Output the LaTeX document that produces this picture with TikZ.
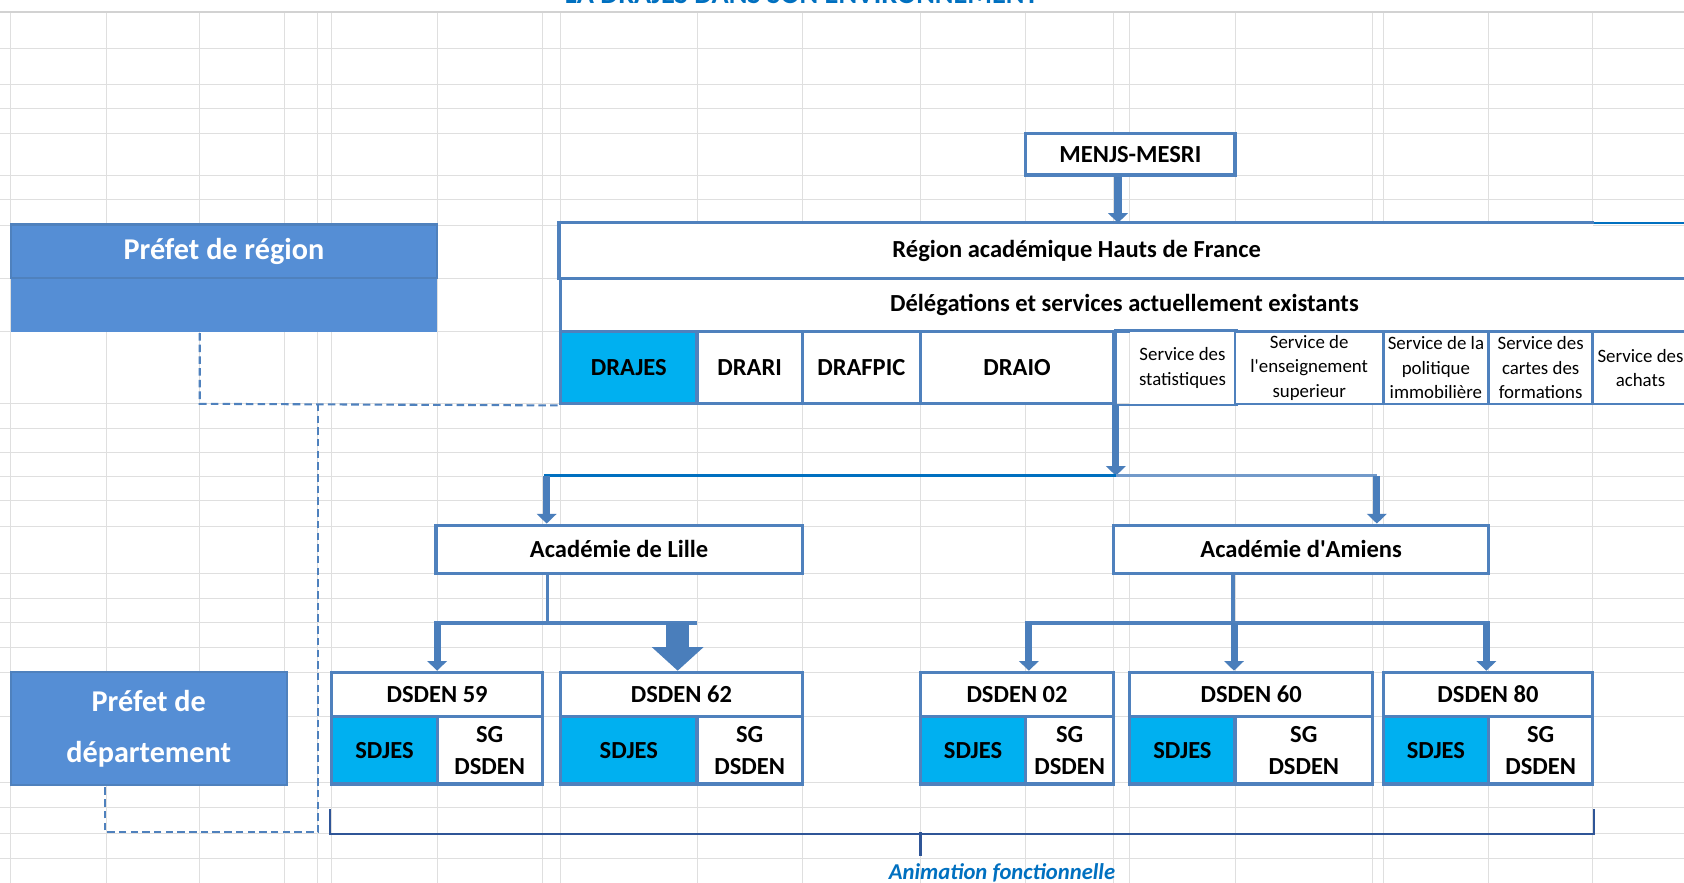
\documentclass[tikz,border=0pt]{standalone}
\usepackage{fontspec}
\setmainfont{Carlito}
\usetikzlibrary{arrows.meta,positioning}
\definecolor{bordbleu}{HTML}{4F81BD}
\definecolor{prefbleu}{HTML}{558ED5}
\definecolor{cyanjes}{HTML}{00B0F0}
\definecolor{titrebleu}{HTML}{0070C0}
\definecolor{flechebleu}{HTML}{4A7EBB}
\definecolor{crochetbleu}{HTML}{2F5597}
\tikzset{
  boite/.style 2 args={draw=bordbleu,line width=1.7pt,fill=white,inner sep=0pt,
    minimum width=#1*0.02cm,minimum height=#2*0.02cm,
    font=\fontsize{13}{17}\selectfont\bfseries,align=center},
  service/.style={font=\fontsize{10}{13}\selectfont,line width=1.4pt},
  jes/.style={fill=cyanjes},
  prefet/.style 2 args={fill=prefbleu,draw=bordbleu,line width=1.2pt,inner sep=0pt,
    minimum width=#1*0.02cm,minimum height=#2*0.02cm,text=white,
    font=\fontsize{16}{29.5}\selectfont\bfseries,align=center},
  fleche/.style={draw=flechebleu,line width=0.13cm,-{Triangle[length=0.18cm,width=0.36cm]}},
  grossefleche/.style={draw=flechebleu,line width=0.42cm,-{Triangle[length=0.44cm,width=0.94cm]}},
  trait/.style={draw=bordbleu,line width=1.7pt},
  tirets/.style={draw=bordbleu,line width=1.1pt,dash pattern=on 4pt off 2.2pt},
  crochet/.style={draw=crochetbleu,line width=1.2pt},
  grille/.style={draw=gray!25,line width=0.5pt},
}

\begin{document}
\begin{tikzpicture}[x=0.02cm,y=-0.02cm]
\useasboundingbox (0,0) rectangle (1568,822);
\fill[white] (0,0) rectangle (1568,822);
% grille du tableur
\foreach \gx in {10,99,186,265,296,309,407,505,522,649,747,857,955,1037,1052,1150,1278,1288,1386,1483}
  \draw[grille] (\gx,11) -- (\gx,830);
\foreach \gy in {45,79,101,124,163,186,210,259,309,376,399,421,444,466,490,534,557,580,603,626,667,729,752,776,799}
  \draw[grille] (0,\gy) -- (1570,\gy);
\draw[grille,draw=gray!35,line width=1.2pt] (0,11) -- (1570,11);
\node (titre) [anchor=base,text=titrebleu,font=\fontsize{15}{17}\selectfont\bfseries] at (746.5,3) {LA DRAJES DANS SON ENVIRONNEMENT};
%
\node (prefregbas) [prefet={397}{50},draw=none] at (208.5,284) {};
\node (prefreg) [prefet={397}{50}] at (208.5,234) {Préfet de région};
\node (prefdep) [prefet={257}{105}] at (138.5,678.5) {Préfet de\\[-0.1cm]département};
%
\node (menjs) [boite={195}{39}] at (1052.5,143.5) {MENJS-MESRI};
\node (region) [boite={961}{50},draw=none] at (1002.5,234) {Région académique Hauts de France};
\draw[draw=bordbleu,line width=1.7pt] (region.south west) -- (region.north west) -- (region.north east);
\draw[draw=titrebleu,line width=1.1pt] (region.north east) -- ++(100,0);
\node (deleg) [boite={1050}{50}] at (1047,284) {Délégations et services actuellement existants};
\node (drajes) [boite={127}{67},jes] at (585.5,342.5) {DRAJES};
\node (drari) [boite={98}{67}] at (698,342.5) {DRARI};
\node (drafpic) [boite={110}{67}] at (802,342.5) {DRAFPIC};
\node (draio) [boite={180}{67}] at (947,342.5) {DRAIO};
\node (stats) [boite={98}{67},service,draw=none] at (1101,342.5) {Service des\\statistiques};
\draw[draw=bordbleu,line width=1.4pt] (draio.north east) rectangle (stats.south east);
\node (ensup) [boite={138}{67},service] at (1219,342.5) {Service de\\l\textquotesingle enseignement\\superieur};
\node (immo) [boite={98}{67},service] at (1337,342.5) {Service de la\\politique\\immobilière};
\node (cartes) [boite={97}{67},service] at (1434.5,342.5) {Service des\\cartes des\\formations};
\node (achats) [boite={89}{67},service] at (1527.5,342.5) {Service des\\achats};
%
\node (lille) [boite={341}{45}] at (576.5,511.5) {Académie de Lille};
\node (amiens) [boite={349}{45}] at (1211.5,511.5) {Académie d\textquotesingle Amiens};
%
\node (d59) [boite={196}{41}] at (407,646.5) {DSDEN 59};
\node (d59j) [boite={98}{63},jes] at (358,698.5) {SDJES};
\node (d59s) [boite={98}{63}] at (456,698.5) {SG\\DSDEN};
\node (d62) [boite={225}{41}] at (634.5,646.5) {DSDEN 62};
\node (d62j) [boite={127}{63},jes] at (585.5,698.5) {SDJES};
\node (d62s) [boite={98}{63}] at (698,698.5) {SG\\DSDEN};
\node (d02) [boite={180}{41}] at (947,646.5) {DSDEN 02};
\node (d02j) [boite={98}{63},jes] at (906,698.5) {SDJES};
\node (d02s) [boite={82}{63}] at (996,698.5) {SG\\DSDEN};
\node (d60) [boite={226}{41}] at (1165,646.5) {DSDEN 60};
\node (d60j) [boite={98}{63},jes] at (1101,698.5) {SDJES};
\node (d60s) [boite={128}{63}] at (1214,698.5) {SG\\DSDEN};
\node (d80) [boite={195}{41}] at (1385.5,646.5) {DSDEN 80};
\node (d80j) [boite={98}{63},jes] at (1337,698.5) {SDJES};
\node (d80s) [boite={97}{63}] at (1434.5,698.5) {SG\\DSDEN};
%
\node (anim) [text=titrebleu,font=\fontsize{12}{14}\selectfont\bfseries\itshape] at (933,813) {Animation fonctionnelle};
% liaisons
\coordinate (cmen) at (1041,0);
\draw[fleche,line width=0.15cm] (menjs.south -| cmen) -- (region.north -| cmen);
\coordinate (jac) at (1039,443);
\coordinate (jlil) at (509,443);
\coordinate (jami) at (1282,443);
\draw[fleche] (draio.south -| jac) -- (jac);
\draw[draw=titrebleu,line width=1.4pt] ([xshift=-0.05cm]jlil) -- (jac);
\draw[draw=bordbleu!80,line width=1.4pt] (jac) -- (jami);
\draw[fleche] (jlil) -- (jlil |- lille.north);
\draw[fleche] (jami) -- (jami |- amiens.north);
%
\coordinate (jl) at (510,580);
\coordinate (jl59) at (407,580);
\coordinate (jl62) at (631,580);
\draw[trait] (lille.south -| jl) -- (jl);
\draw[trait] ([xshift=-0.06cm]jl59) -- ([xshift=0.36cm]jl62);
\draw[fleche] (jl59) -- (jl59 |- d59.north);
\draw[grossefleche] (jl62) -- (jl62 |- d62.north);
%
\coordinate (ja) at (1148,580);
\coordinate (ja02) at (958,580);
\coordinate (ja60) at (1149,580);
\coordinate (ja80) at (1384,580);
\draw[trait] (amiens.south -| ja) -- (ja);
\draw[trait] ([xshift=-0.08cm]ja02) -- ([xshift=0.06cm]ja80);
\draw[fleche] (ja02) -- (ja02 |- d02.north);
\draw[fleche] (ja60) -- (ja60 |- d60.north);
\draw[fleche] (ja80) -- (ja80 |- d80.north);
% liens avec les préfets
\coordinate (preg) at (186,376);
\coordinate (pdep) at (296,376);
\coordinate (pbas) at (296,775);
\coordinate (pdep2) at (98,775);
\draw[tirets] (prefregbas.south -| preg) -- (preg) -- (drajes.south west);
\draw[tirets] (pdep) -- (pbas) -- (pdep2) -- (pdep2 |- prefdep.south);
% animation fonctionnelle
\draw[crochet] ([yshift=-0.44cm]d59j.south west) -- ([yshift=-0.9cm]d59j.south west)
  -- ([yshift=-0.9cm]d80s.south east) -- ([yshift=-0.44cm]d80s.south east);
\coordinate (cmil) at (857,775);
\draw[crochet] (cmil) -- ++(0,22);
\end{tikzpicture}
\end{document}
